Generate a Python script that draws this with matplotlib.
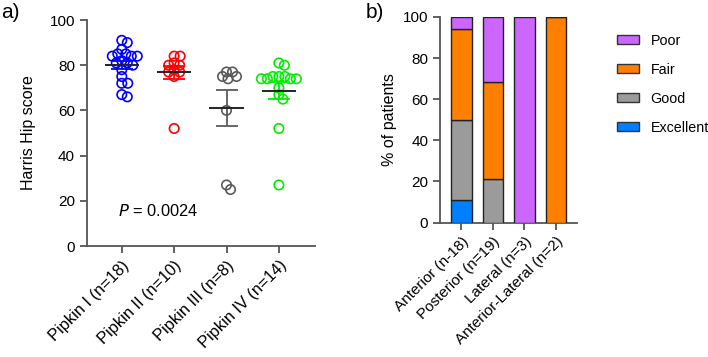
import numpy as np
import matplotlib
matplotlib.use("Agg")
import matplotlib.pyplot as plt
from matplotlib.patches import Patch

plt.rcParams['font.family'] = ['Liberation Sans', 'DejaVu Sans']
plt.rcParams['font.size'] = 11

# ---------------- data ----------------
groups = ["Pipkin I (n=18)", "Pipkin II (n=10)", "Pipkin III (n=8)", "Pipkin IV (n=14)"]
pipkin_I = [91, 90, 87, 85, 85, 84, 84, 84, 82, 81, 81, 80, 78, 75, 72, 72, 67, 66]
pipkin_II = [84, 84, 81, 80, 80, 78, 77, 77, 75, 52]
pipkin_III = [77, 77, 75, 75, 74, 60, 27, 25]
pipkin_IV = [81, 80, 75, 75, 75, 74, 74, 74, 74, 70, 67, 65, 52, 27]
group_colors = ["#0000FF", "#FF0000", "#5A5A5A", "#00EE00"]
p_text = "0.0024"

approaches = ["Anterior (n-18)", "Posterior (n=19)", "Lateral (n=3)", "Anterior-Lateral (n=2)"]
excellent = [11.1, 0, 0, 0]
good = [38.9, 21.1, 0, 0]
fair = [44.4, 47.4, 0, 100]
poor = [5.6, 31.6, 100, 0]
grade_names = ["Excellent", "Good", "Fair", "Poor"]
grade_colors = ["#0080FF", "#9B9B9B", "#FF8000", "#CC66FF"]

# ---------------- figure ----------------
W, H = 708, 357
fig = plt.figure(figsize=(W / 100, H / 100), dpi=100)

axc = "#555555"

def style_axes(ax, xsize, ysize):
    for s in ("top", "right"):
        ax.spines[s].set_visible(False)
    for s in ("left", "bottom"):
        ax.spines[s].set_color(axc)
        ax.spines[s].set_linewidth(1.3)
    ax.tick_params(axis="both", colors=axc, width=1.3, length=5, labelcolor="black")
    ax.tick_params(axis="y", labelsize=ysize)
    ax.tick_params(axis="x", labelsize=xsize)

# panel a
ax1 = fig.add_axes([86.7 / W, 1 - 246 / H, (315 - 86.7) / W, (246 - 20) / H])
style_axes(ax1, 11.8, 11)
ax1.set_xlim(-0.67, 3.69)
ax1.set_ylim(0, 100)
ax1.set_yticks([0, 20, 40, 60, 80, 100])

px_per_x = (315 - 86.7) / (3.69 + 0.67)
px_per_y = (246 - 20) / 100.0

def swarm(vals, D=5.8):
    order = np.argsort(-np.asarray(vals, dtype=float), kind="stable")
    placed = []
    offs = np.zeros(len(vals))
    cands = [0.0]
    for k in range(1, 80):
        cands += [k * 0.5, -k * 0.5]
    for i in order:
        y = vals[i] * px_per_y
        for c in cands:
            if all((c - ox) ** 2 + (y - oy) ** 2 >= D * D for ox, oy in placed):
                break
        placed.append((c, y))
        offs[i] = c / px_per_x
    return offs

series = [pipkin_I, pipkin_II, pipkin_III, pipkin_IV]
for gi, (vals, col) in enumerate(zip(series, group_colors)):
    vals = np.asarray(vals, dtype=float)
    xs = gi + swarm(vals)
    ax1.scatter(xs, vals, s=46, facecolors="none", edgecolors=col, linewidths=1.2, zorder=3)
    m = vals.mean()
    sem = vals.std(ddof=1) / np.sqrt(len(vals))
    ax1.errorbar([gi], [m], yerr=[sem], fmt="none", ecolor=col, elinewidth=1.3,
                 capsize=8, capthick=1.3, zorder=4)
    ax1.hlines(m, gi - 0.33, gi + 0.33, color="#222222", linewidth=1.4, zorder=5)

ax1.set_xticks(range(len(groups)))
ax1.set_xticklabels(groups, rotation=45, ha="right", rotation_mode="anchor")
ax1.set_ylabel("Harris Hip score", fontsize=11.5, labelpad=10)
ax1.text(0.69, 15.5, r"$\it{P}$ = " + p_text, ha="center", va="center", fontsize=11.8)

# panel b
ax2 = fig.add_axes([440 / W, 1 - 222.5 / H, (576.7 - 440) / W, (222.5 - 17) / H])
style_axes(ax2, 11, 11)
ax2.set_xlim(-0.676, 3.66)
ax2.set_ylim(0, 100)
ax2.set_yticks([0, 20, 40, 60, 80, 100])
xb = np.arange(len(approaches))
bottom = np.zeros(len(approaches))
for vals, col in zip([excellent, good, fair, poor], grade_colors):
    ax2.bar(xb, vals, bottom=bottom, width=0.65, color=col, edgecolor="#222222", linewidth=1.0, zorder=3)
    bottom += np.asarray(vals)
ax2.set_xticks(xb)
ax2.set_xticklabels(approaches, rotation=45, ha="right", rotation_mode="anchor")
ax2.set_ylabel("% of patients", fontsize=11.5, labelpad=4)

handles = [Patch(facecolor=c, edgecolor="#333333", linewidth=1.0, label=n)
           for n, c in zip(grade_names[::-1], grade_colors[::-1])]
fig.legend(handles=handles, loc="upper left", bbox_to_anchor=(604 / W, 1 - 21 / H),
           frameon=False, fontsize=10.3, handlelength=1.55, handleheight=0.6,
           handletextpad=0.8, labelspacing=1.05)

fig.text(1 / W, 1 - 12 / H, "a)", fontsize=15, ha="left", va="center")
fig.text(366 / W, 1 - 12 / H, "b)", fontsize=15, ha="left", va="center")

fig.savefig("out.png", dpi=100)
